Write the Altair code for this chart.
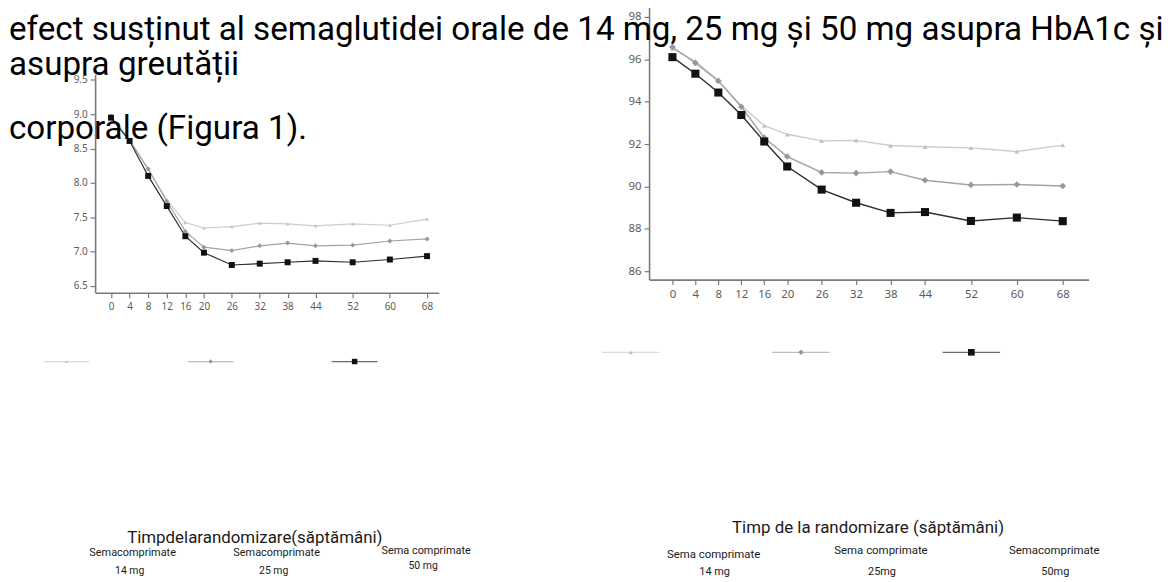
import altair as alt
import pandas as pd

# ---------------- data ----------------
weeks = [0, 4, 8, 12, 16, 20, 26, 32, 38, 44, 52, 60, 68]
series = ["14 mg", "25 mg", "50 mg"]

hba1c_14 = [8.97, 8.63, 8.20, 7.75, 7.42, 7.34, 7.36, 7.41, 7.40, 7.37, 7.40, 7.38, 7.47]
hba1c_25 = [8.97, 8.62, 8.20, 7.73, 7.29, 7.06, 7.01, 7.08, 7.12, 7.08, 7.09, 7.15, 7.18]
hba1c_50 = [8.95, 8.61, 8.10, 7.66, 7.22, 6.98, 6.80, 6.82, 6.84, 6.86, 6.84, 6.88, 6.93]

weight_14 = [96.50, 95.90, 95.00, 93.80, 92.87, 92.46, 92.15, 92.17, 91.93, 91.87, 91.82, 91.65, 91.95]
weight_25 = [96.58, 95.83, 94.98, 93.76, 92.30, 91.41, 90.66, 90.63, 90.70, 90.29, 90.07, 90.09, 90.02]
weight_50 = [96.10, 95.32, 94.43, 93.37, 92.12, 90.94, 89.85, 89.23, 88.75, 88.79, 88.37, 88.53, 88.36]

hba1c_ticks = [6.5, 7.0, 7.5, 8.0, 8.5, 9.0, 9.5]
weight_ticks = [86, 88, 90, 92, 94, 96, 98]

title_lines = [
    "efect susținut al semaglutidei orale de 14 mg, 25 mg și 50 mg asupra HbA1c și",
    "asupra greutății",
    "corporale (Figura 1).",
]
left_xtitle = "Timpdelarandomizare(săptămâni)"
right_xtitle = "Timp de la randomizare (săptămâni)"
left_names = ["Semacomprimate", "Semacomprimate", "Sema comprimate"]
left_doses = ["14 mg", "25 mg", "50 mg"]
right_names = ["Sema comprimate", "Sema comprimate", "Semacomprimate"]
right_doses = ["14 mg", "25mg", "50mg"]


def long(vals_by_series):
    rows = []
    for s, vals in zip(series, vals_by_series):
        for w, v in zip(weeks, vals):
            rows.append({"week": w, "series": s, "value": v})
    return pd.DataFrame(rows)


df_h = long([hba1c_14, hba1c_25, hba1c_50])
df_w = long([weight_14, weight_25, weight_50])
df_keys = pd.DataFrame({"series": series})

# ---------------- styling ----------------
W, H = 1168, 574
M = 8  # page margin


def c(p):
    return p - M


line_colors = ["#cccccc", "#a3a3a3", "#2e2e2e"]
mark_colors = ["#c2c2c2", "#989898", "#111111"]
shapes = ["triangle-up", "diamond", "square"]
axis_col = "#7a7a7a"
lab_col = "#5c5c5c"


def panel(df, xdom, xrange, ydom, yrange, xaxis_y, yaxis_x, yticks, yfmt,
          lab_size, sizes, lw):
    x = alt.X(
        "week:Q",
        scale=alt.Scale(domain=xdom, range=xrange, nice=False, zero=False),
        axis=alt.Axis(values=weeks, orient="bottom", offset=xaxis_y - H, title=None,
                      grid=False, domainColor=axis_col, domainWidth=1.6,
                      tickColor=axis_col, tickWidth=1.2, tickSize=5,
                      labelColor=lab_col, labelFontSize=lab_size, labelFont="Noto Sans",
                      labelPadding=4, labelFlush=False, labelOverlap=False),
    )
    y = alt.Y(
        "value:Q",
        scale=alt.Scale(domain=ydom, range=yrange, nice=False, zero=False),
        axis=alt.Axis(values=yticks, format=yfmt, orient="left", offset=-yaxis_x,
                      title=None, grid=False, domainColor=axis_col, domainWidth=1.6,
                      tickColor=axis_col, tickWidth=1.2, tickSize=5,
                      labelColor=lab_col, labelFontSize=lab_size, labelFont="Noto Sans",
                      labelPadding=3, labelFlush=False, labelOverlap=False),
    )
    base = alt.Chart(df)
    lines = base.mark_line(strokeWidth=lw).encode(
        x=x, y=y,
        color=alt.Color("series:N", scale=alt.Scale(domain=series, range=line_colors), legend=None),
    )
    pts = base.mark_point(filled=True, opacity=1, strokeWidth=0).encode(
        x=x, y=y,
        fill=alt.Fill("series:N", scale=alt.Scale(domain=series, range=mark_colors), legend=None),
        shape=alt.Shape("series:N", scale=alt.Scale(domain=series, range=shapes), legend=None),
        size=alt.Size("series:N", scale=alt.Scale(domain=series, range=sizes), legend=None),
    )
    return alt.layer(lines, pts)


# left panel: HbA1c (%)
px_wk_l = 4.68
x0_l = c(111.7)
left = panel(
    df_h,
    xdom=[-3.4, 70.5], xrange=[x0_l - 3.4 * px_wk_l, x0_l + 70.5 * px_wk_l],
    ydom=[6.4, 9.58], yrange=[c(251) + 0.6 * 69, c(251) - 2.58 * 69],
    xaxis_y=c(292.7), yaxis_x=c(95.7),
    yticks=hba1c_ticks, yfmt=".1f", lab_size=10, sizes=[14, 36, 22], lw=1.2,
)

# right panel: body weight (kg)
px_wk_r = 5.78
x0_r = c(677)
right = panel(
    df_w,
    xdom=[-4, 72.5], xrange=[x0_r - 4 * px_wk_r, x0_r + 72.5 * px_wk_r],
    ydom=[85.6, 98.45], yrange=[c(271) + 0.4 * 21.4, c(15) - 0.45 * 21.4],
    xaxis_y=c(279.5), yaxis_x=c(653.5),
    yticks=weight_ticks, yfmt="d", lab_size=11.5, sizes=[24, 66, 44], lw=1.4,
)


def keys(xr, ypix, length, sizes):
    xk = alt.X("series:N", scale=alt.Scale(type="point", domain=series, range=xr, padding=0),
               axis=None)
    base = alt.Chart(df_keys)
    seg = base.mark_tick(orient="horizontal", thickness=1.2, size=length).encode(
        x=xk, y=alt.value(c(ypix)),
        color=alt.Color("series:N", scale=alt.Scale(domain=series, range=line_colors), legend=None),
    )
    mk = base.mark_point(filled=True, opacity=1, strokeWidth=0).encode(
        x=xk, y=alt.value(c(ypix)),
        fill=alt.Fill("series:N", scale=alt.Scale(domain=series, range=mark_colors), legend=None),
        shape=alt.Shape("series:N", scale=alt.Scale(domain=series, range=shapes), legend=None),
        size=alt.Size("series:N", scale=alt.Scale(domain=series, range=sizes), legend=None),
    )
    return alt.layer(seg, mk)


left_keys = keys([c(67), c(357)], 362, 46, [10, 30, 20])
right_keys = keys([c(635), c(978)], 352.7, 58, [18, 45, 30])


def label(text, px, py, size, font="Roboto", color="#1a1a1a", align="center",
          baseline="middle"):
    return alt.Chart(pd.DataFrame({"t": [text]})).mark_text(
        align=align, baseline=baseline, font=font, fontSize=size, color=color
    ).encode(text="t:N", x=alt.value(c(px)), y=alt.value(c(py)))


texts = [
    label(title_lines[0], 9, 38, 33.4, color="#000000", align="left", baseline="alphabetic"),
    label(title_lines[1], 9, 73, 33.4, color="#000000", align="left", baseline="alphabetic"),
    label(title_lines[2], 9, 138, 33.4, color="#000000", align="left", baseline="alphabetic"),
    label(left_xtitle, 256.5, 540, 17),
    label(right_xtitle, 874, 530, 17),
]
left_cx = [133.5, 278.5, 429]
left_ny = [555, 555, 553]
left_dy = [573, 573, 568]
right_cx = [718.5, 887, 1061.5]
right_ny = [557, 553, 553]
right_dy = [574, 574, 574]
for i in range(3):
    texts.append(label(left_names[i], left_cx[i], left_ny[i], 11))
    texts.append(label(left_doses[i], left_cx[i] - 3, left_dy[i], 10.5))
    texts.append(label(right_names[i], right_cx[i], right_ny[i], 11.5))
    texts.append(label(right_doses[i], right_cx[i] + 1, right_dy[i], 11))

chart = alt.layer(
    left, right, left_keys, right_keys, *texts
).resolve_scale(
    x="independent", y="independent", size="independent"
).properties(
    width=W, height=H, autosize=alt.AutoSizeParams(type="none"), padding=0,
    background="#ffffff",
).configure_view(stroke="transparent")

chart.save("out.html", embed_options={"renderer": "svg", "actions": False})
